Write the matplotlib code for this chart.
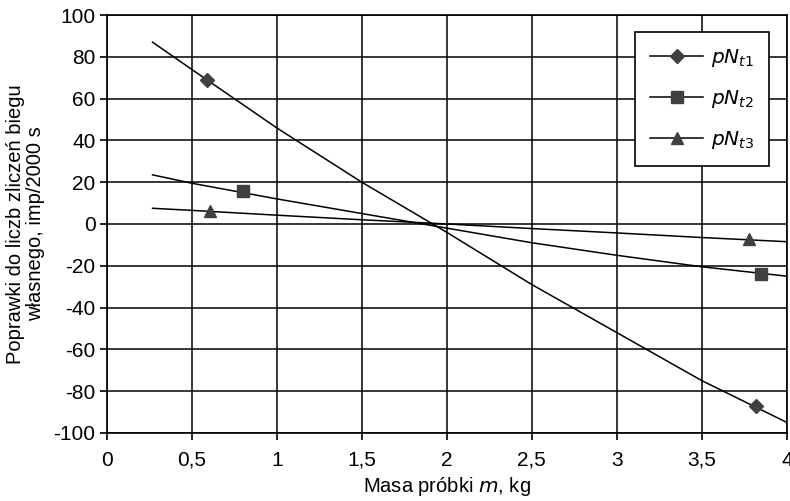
import numpy as np
import matplotlib.pyplot as plt
from matplotlib.ticker import FuncFormatter

plt.rcParams['font.family'] = ['Liberation Sans', 'DejaVu Sans']
plt.rcParams['axes.unicode_minus'] = False

# measured points
m1 = [0.59, 3.82]
pN1 = [69, -87]
m2 = [0.80, 3.85]
pN2 = [16, -24]
m3 = [0.61, 3.78]
pN3 = [6, -7]

# trend lines
trend_x = [0.27, 0.5, 1.0, 1.5, 2.0, 2.5, 3.0, 3.5, 4.0]
trend1 = [87, 74, 46, 20, -4, -29, -52, -75, -95]
trend2 = [23.5, 19.5, 12, 5, -2, -9, -15, -20.5, -25]
trend3 = [7.5, 6.5, 4.2, 2, 0, -2.2, -4.3, -6.5, -8.5]

labels = [r'$pN_{t1}$', r'$pN_{t2}$', r'$pN_{t3}$']

fig = plt.figure(figsize=(7.9, 5.01), dpi=100)
ax = fig.add_axes([0.135, 0.136, 0.861, 0.834])

ax.plot(trend_x, trend1, color='black', lw=1.1)
ax.plot(trend_x, trend2, color='black', lw=1.1)
ax.plot(trend_x, trend3, color='black', lw=1.1)

mc = '#404040'
ax.plot(m1, pN1, ls='none', marker='D', ms=7, color=mc)
ax.plot(m2, pN2, ls='none', marker='s', ms=9, color=mc)
ax.plot(m3, pN3, ls='none', marker='^', ms=9, color=mc)

# legend handles
h1, = ax.plot([], [], color='black', lw=1.1, marker='D', ms=7, mfc=mc, mec=mc)
h2, = ax.plot([], [], color='black', lw=1.1, marker='s', ms=8, mfc=mc, mec=mc)
h3, = ax.plot([], [], color='black', lw=1.1, marker='^', ms=9, mfc=mc, mec=mc)
leg = ax.legend([h1, h2, h3], labels, loc='upper right', bbox_to_anchor=(0.974, 0.96),
                fontsize=14.5, frameon=True, fancybox=False, edgecolor='black',
                framealpha=1, handlelength=2.6, handletextpad=0.4, labelspacing=0.95,
                borderpad=0.75, borderaxespad=0)
leg.get_frame().set_linewidth(1.2)

ax.set_xlim(0, 4)
ax.set_ylim(-100, 100)
ax.set_xticks(np.arange(0, 4.01, 0.5))
ax.set_yticks(np.arange(-100, 101, 20))
ax.xaxis.set_major_formatter(FuncFormatter(lambda v, p: ('%g' % v).replace('.', ',')))
ax.grid(True, color='black', lw=1.1)
ax.set_axisbelow(True)
for s in ax.spines.values():
    s.set_linewidth(1.2)
ax.tick_params(direction='out', length=5, width=1.2, labelsize=15)
ax.tick_params(axis='x', pad=8)
ax.tick_params(axis='y', pad=3)

ax.set_xlabel('Masa próbki $m$, kg', fontsize=14.5, labelpad=4)
ax.set_ylabel('Poprawki do liczb zliczeń biegu\nwłasnego, imp/2000 s', fontsize=14.5,
              labelpad=6, linespacing=1.05)

fig.savefig('out.png', dpi=100)
